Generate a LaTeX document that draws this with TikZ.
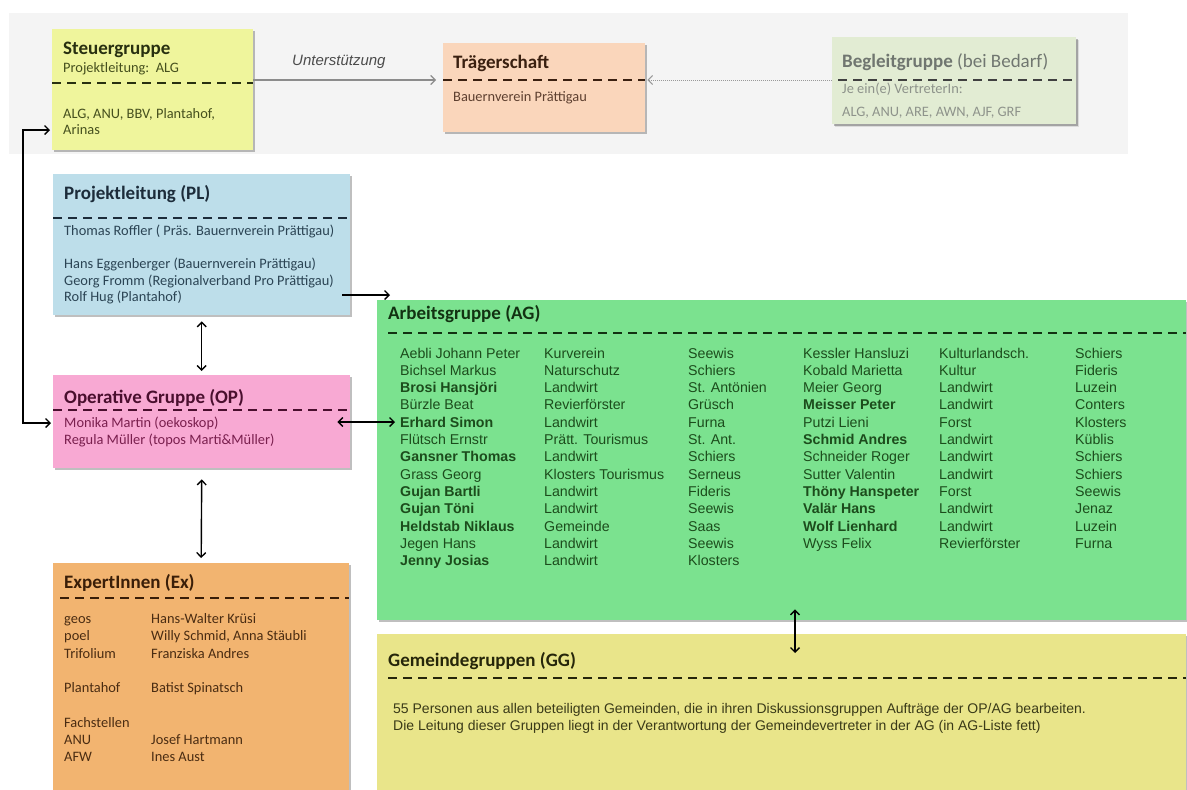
\documentclass[tikz,border=0pt]{standalone}
\usepackage{fontspec}
\setmainfont{Carlito}
\newfontfamily\arialfont{Liberation Sans}
\usetikzlibrary{arrows.meta,shadows}

\definecolor{bandfill}{HTML}{F4F4F4}
\definecolor{sgfill}{HTML}{EFF59C}
\definecolor{tsfill}{HTML}{FAD6BB}
\definecolor{bgfill}{HTML}{E2ECD3}
\definecolor{plfill}{HTML}{BDDEEA}
\definecolor{opfill}{HTML}{F8A9D3}
\definecolor{exfill}{HTML}{F2B470}
\definecolor{agfill}{HTML}{7BE28F}
\definecolor{ggfill}{HTML}{E9E58A}
\definecolor{sgink}{HTML}{283010}
\definecolor{sgtext}{HTML}{46501E}
\definecolor{tsink}{HTML}{3A2010}
\definecolor{tstext}{HTML}{5E4030}
\definecolor{bgink}{HTML}{707670}
\definecolor{bgtext}{HTML}{8E938B}
\definecolor{plink}{HTML}{1C2C3A}
\definecolor{pltext}{HTML}{2B4454}
\definecolor{opink}{HTML}{4A0F2E}
\definecolor{optext}{HTML}{7A1F4E}
\definecolor{exink}{HTML}{3A1E08}
\definecolor{extext}{HTML}{4A2C12}
\definecolor{agink}{HTML}{123212}
\definecolor{agtext}{HTML}{1C4C1C}
\definecolor{ggink}{HTML}{26260A}
\definecolor{ggtext}{HTML}{3A3A18}

% multi-line text whose baseline is the first line
\newcommand{\linesof}[1]{\begin{tabular}[t]{@{}l@{}}#1\end{tabular}}

\begin{document}
\begin{tikzpicture}
  [x=1pt, y=-1pt,
   >={Straight Barb[length=4.5pt,width=9pt]},
   box/.style={rectangle, anchor=north west, inner sep=0pt,
               drop shadow={shadow xshift=2pt, shadow yshift=-2pt, opacity=.25, fill=black}},
   title/.style={anchor=base west, inner sep=0pt, font=\fontsize{19}{22}\selectfont\bfseries},
   txt/.style={anchor=base west, inner sep=0pt, font=\fontsize{14.4}{17}\selectfont},
   sep/.style={dash pattern=on 9pt off 6pt, line width=2pt},
   link/.style={<->, line width=1.4pt, shorten <=2pt, shorten >=2pt}
  ]
  \useasboundingbox (0,0) rectangle (1187,790);

  % top band
  \node[rectangle, anchor=north west, inner sep=0pt, fill=bandfill,
        minimum width=1119pt, minimum height=141pt] (band) at (9,13) {};

  % boxes
  \node[box, fill=sgfill, minimum width=201pt, minimum height=121pt] (sg) at (52,29)  {};
  \node[box, fill=tsfill, minimum width=202pt, minimum height=89pt]  (ts) at (443,43) {};
  \node[box, fill=bgfill, minimum width=244pt, minimum height=87pt,
        drop shadow={opacity=.1, fill=black}]                       (bg) at (832,37) {};
  \node[box, fill=plfill, minimum width=297pt, minimum height=141pt] (pl) at (53,174) {};
  \node[box, fill=opfill, minimum width=297pt, minimum height=93pt]  (op) at (53,375) {};
  \node[box, fill=exfill, minimum width=296pt, minimum height=228pt] (ex) at (53,563) {};
  \node[box, fill=agfill, minimum width=809pt, minimum height=320pt] (ag) at (377,300) {};
  \node[box, fill=ggfill, minimum width=809pt, minimum height=157pt] (gg) at (377,634) {};

  % Steuergruppe
  \node[title, text=sgink] (sgt) at (63,54) {Steuergruppe};
  \node[txt, text=sgtext] (sgs) at (63,72.5) {Projektleitung:\ \ ALG};
  \draw[sep, draw=sgink] (sg.west |- 0,83) -- (sg.east |- 0,83);
  \node[txt, text=sgtext, font=\fontsize{14.4}{16}\selectfont] (sgb) at (63,118.5)
    {\linesof{ALG, ANU, BBV, Plantahof,\\Arinas}};

  % Traegerschaft
  \node[title, text=tsink] (tst) at (453,68) {Trägerschaft};
  \draw[sep, draw=tsink] (ts.west |- 0,80) -- (ts.east |- 0,80);
  \node[txt, text=tstext] (tsb) at (453,101.5) {Bauernverein Prättigau};

  % Begleitgruppe
  \node[title, text=bgink] (bgt) at (842,67) {Begleitgruppe {\mdseries (bei Bedarf)}};
  \draw[sep, draw=black!75] (838,80) -- (bg.east |- 0,80);
  \node[txt, text=bgtext, font=\fontsize{14.4}{23}\selectfont] (bgb) at (842,93.5)
    {\linesof{Je ein(e) VertreterIn:\\ALG, ANU, ARE, AWN, AJF, GRF}};

  % Projektleitung
  \node[title, text=plink] (plt) at (64,199) {Projektleitung (PL)};
  \draw[sep, draw=plink] (pl.west |- 0,218) -- (pl.east |- 0,218);
  \node[txt, text=pltext, font=\fontsize{14.4}{16.5}\selectfont] (plb) at (64,235.5)
    {\linesof{Thomas Roffler ( Präs. Bauernverein Prättigau)\\[16.5pt]
     Hans Eggenberger (Bauernverein Prättigau)\\
     Georg Fromm (Regionalverband Pro Prättigau)\\
     Rolf Hug (Plantahof)}};

  % Operative Gruppe
  \node[title, text=opink] (opt) at (64,403) {Operative Gruppe (OP)};
  \draw[sep, draw=opink] (op.west |- 0,410) -- (op.east |- 0,410);
  \node[txt, text=optext] (opb) at (64,427.5)
    {\linesof{Monika Martin (oekoskop)\\Regula Müller (topos Marti\&Müller)}};

  % ExpertInnen
  \node[title, text=exink] (ext) at (64,588) {ExpertInnen (Ex)};
  \draw[sep, draw=exink] (60,598) -- (ex.east |- 0,598);
  \node[txt, text=extext, font=\fontsize{14.4}{17.25}\selectfont] (exb) at (64,623.5)
    {\begin{tabular}[t]{@{}p{87pt}@{}l@{}}
     geos & Hans-Walter Krüsi\\
     poel & Willy Schmid, Anna Stäubli\\
     Trifolium & Franziska Andres\\
     & \\
     Plantahof & Batist Spinatsch\\
     & \\
     Fachstellen & \\
     ANU & Josef Hartmann\\
     AFW & Ines Aust
     \end{tabular}};

  % Arbeitsgruppe
  \node[title, text=agink] (agt) at (388,319) {Arbeitsgruppe (AG)};
  \draw[sep, draw=agink] (388,333) -- (ag.east |- 0,333);
  \node[txt, text=agtext, font=\arialfont\fontsize{14.2}{17.33}\selectfont] (agb) at (400,358)
    {\begin{tabular}[t]{@{}p{144pt}@{}p{144pt}@{}p{115pt}@{}p{136pt}@{}p{136pt}@{}l@{}}
     Aebli Johann Peter & Kurverein & Seewis & Kessler Hansluzi & Kulturlandsch. & Schiers\\
     Bichsel Markus & Naturschutz & Schiers & Kobald Marietta & Kultur & Fideris\\
     \textbf{Brosi Hansjöri} & Landwirt & St. Antönien & Meier Georg & Landwirt & Luzein\\
     Bürzle Beat & Revierförster & Grüsch & \textbf{Meisser Peter} & Landwirt & Conters\\
     \textbf{Erhard Simon} & Landwirt & Furna & Putzi Lieni & Forst & Klosters\\
     Flütsch Ernstr & Prätt. Tourismus & St. Ant. & \textbf{Schmid Andres} & Landwirt & Küblis\\
     \textbf{Gansner Thomas} & Landwirt & Schiers & Schneider Roger & Landwirt & Schiers\\
     Grass Georg & Klosters Tourismus & Serneus & Sutter Valentin & Landwirt & Schiers\\
     \textbf{Gujan Bartli} & Landwirt & Fideris & \textbf{Thöny Hanspeter} & Forst & Seewis\\
     \textbf{Gujan Töni} & Landwirt & Seewis & \textbf{Valär Hans} & Landwirt & Jenaz\\
     \textbf{Heldstab Niklaus} & Gemeinde & Saas & \textbf{Wolf Lienhard} & Landwirt & Luzein\\
     Jegen Hans & Landwirt & Seewis & Wyss Felix & Revierförster & Furna\\
     \textbf{Jenny Josias} & Landwirt & Klosters & & &
     \end{tabular}};

  % Gemeindegruppen
  \node[title, text=ggink] (ggt) at (388,666) {Gemeindegruppen (GG)};
  \draw[sep, draw=ggink] (388,678) -- (gg.east |- 0,678);
  \node[txt, text=ggtext, font=\arialfont\fontsize{14}{17}\selectfont] (ggb) at (393,713)
    {\linesof{55 Personen aus allen beteiligten Gemeinden, die in ihren Diskussionsgruppen Aufträge der OP/AG bearbeiten.\\
     Die Leitung dieser Gruppen liegt in der Verantwortung der Gemeindevertreter in der AG (in AG-Liste fett)}};

  % connectors
  \node[anchor=base west, inner sep=0pt, text=black!70,
        font=\arialfont\itshape\fontsize{15}{18}\selectfont] (sup) at (292,65.5) {Unterstützung};
  \draw[->, draw=black!45, line width=1.2pt]
    ([yshift=-51pt]sg.north east) -- ([xshift=-7pt,yshift=-37pt]ts.north west);
  \draw[->, draw=black!40, line width=1pt, dash pattern=on 1pt off 1pt]
    ([yshift=-43pt]bg.north west) -- ([xshift=2pt,yshift=-37pt]ts.north east);
  \draw[link] ([yshift=-101pt]sg.north west) -- ++(-29,0) |- ([yshift=-48pt]op.north west);
  \draw[->, line width=1.4pt]
    ([xshift=-8pt,yshift=-121pt]pl.north east) -- ([xshift=13pt,yshift=5pt]ag.north west);
  \draw[link] ([yshift=-4pt]pl.south) -- ([yshift=2pt]op.north);
  \draw[link] ([xshift=-15pt,yshift=-47pt]op.north east) -- ([xshift=20pt,yshift=-122pt]ag.north west);
  \draw[link] ([yshift=-9pt]op.south) -- ([yshift=3pt]ex.north);
  \draw[link] ([xshift=418pt,yshift=13pt]ag.south west) -- ([xshift=418pt,yshift=-21pt]gg.north west);
\end{tikzpicture}
\end{document}
